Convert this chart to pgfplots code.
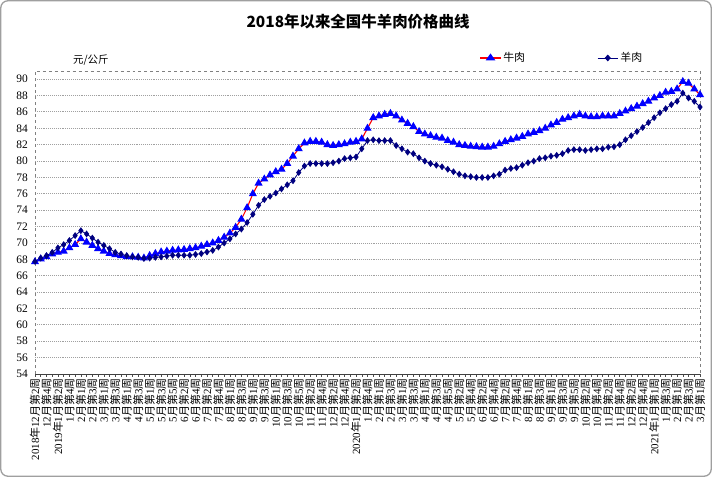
\documentclass[border=0pt]{standalone}
\usepackage{fontspec}
\setmainfont{Liberation Serif}
\newfontfamily\cjk{Noto Sans CJK SC}
\usepackage{pgfplots}
\pgfplotsset{compat=1.18}
\newcommand\wk[2]{#1{\cjk 月第}#2{\cjk 周}}
\newcommand\yr[3]{#1{\cjk 年}#2{\cjk 月第}#3{\cjk 周}}
\definecolor{navy}{RGB}{0,0,128}
\definecolor{gridgray}{RGB}{160,160,160}

\pgfplotstableread{
i beef mutton
0 67.7 67.75
1 68.05 68.15
2 68.3 68.45
3 68.65 68.85
4 68.85 69.4
5 69.0 69.8
6 69.4 70.3
7 69.8 70.9
8 70.5 71.5
9 70.1 71.1
10 69.7 70.6
11 69.3 70.1
12 69.0 69.7
13 68.7 69.3
14 68.55 68.85
15 68.45 68.65
16 68.3 68.45
17 68.3 68.3
18 68.25 68.25
19 68.15 68.1
20 68.45 68.15
21 68.7 68.25
22 68.9 68.3
23 69.0 68.4
24 69.1 68.5
25 69.15 68.5
26 69.2 68.5
27 69.3 68.5
28 69.4 68.6
29 69.6 68.7
30 69.8 68.9
31 70.0 69.1
32 70.3 69.5
33 70.7 70.0
34 71.2 70.5
35 71.9 71.1
36 72.9 71.7
37 74.3 72.5
38 76.0 73.5
39 77.3 74.6
40 77.8 75.3
41 78.3 75.7
42 78.7 76.1
43 79.0 76.6
44 79.7 77.1
45 80.6 77.6
46 81.5 78.6
47 82.2 79.4
48 82.4 79.7
49 82.4 79.7
50 82.3 79.7
51 82.0 79.7
52 81.9 79.8
53 82.0 80.0
54 82.1 80.3
55 82.3 80.4
56 82.4 80.5
57 82.7 81.5
58 84.0 82.5
59 85.3 82.6
60 85.5 82.5
61 85.7 82.5
62 85.8 82.5
63 85.5 81.9
64 85.0 81.5
65 84.6 81.1
66 84.2 80.9
67 83.6 80.4
68 83.3 80.0
69 83.1 79.7
70 82.9 79.5
71 82.8 79.3
72 82.5 79.0
73 82.3 78.7
74 82.0 78.4
75 81.9 78.2
76 81.8 78.1
77 81.75 78.0
78 81.7 78.0
79 81.7 78.0
80 81.8 78.2
81 82.1 78.4
82 82.4 78.9
83 82.6 79.1
84 82.8 79.2
85 83.0 79.5
86 83.3 79.8
87 83.5 80.0
88 83.7 80.3
89 84.0 80.4
90 84.4 80.6
91 84.7 80.7
92 85.1 80.9
93 85.3 81.3
94 85.5 81.4
95 85.7 81.4
96 85.5 81.3
97 85.4 81.4
98 85.4 81.5
99 85.5 81.5
100 85.5 81.7
101 85.5 81.75
102 85.8 82.0
103 86.1 82.6
104 86.4 83.1
105 86.7 83.6
106 87.0 84.1
107 87.3 84.7
108 87.7 85.3
109 88.0 85.9
110 88.4 86.4
111 88.5 86.9
112 88.8 87.3
113 89.7 88.3
114 89.5 87.7
115 88.8 87.3
116 88.1 86.6
}\datatable

\begin{document}
\begin{tikzpicture}
\useasboundingbox (0,0) rectangle (712bp,477bp);
\draw[gray!75, line width=1.3bp, rounded corners=7bp] (0.8bp,0.8bp) rectangle (711.2bp,476.2bp);
\node[font=\cjk\bfseries\fontsize{15.5}{17}\selectfont] at (358bp,455bp) {2018年以来全国牛羊肉价格曲线};
\begin{axis}[
  at={(35bp,103bp)}, anchor=south west,
  scale only axis, width=665bp, height=303bp,
  xmin=0, xmax=116, ymin=54, ymax=91,
  axis line style={draw=none},
  xtick={0,2,...,116},
  minor xtick={1,3,...,115},
  xtick pos=bottom,
  tick align=outside,
  major tick length=3bp, minor tick length=3bp,
  every tick/.style={black!70, line width=0.5bp},
  xticklabels={{\yr{2018}{12}{2}},{\wk{12}{4}},{\yr{2019}{1}{2}},{\wk{1}{4}},{\wk{2}{1}},{\wk{2}{3}},{\wk{3}{1}},{\wk{3}{3}},{\wk{4}{1}},{\wk{4}{3}},{\wk{5}{1}},{\wk{5}{3}},{\wk{5}{5}},{\wk{6}{2}},{\wk{6}{4}},{\wk{7}{2}},{\wk{7}{4}},{\wk{8}{1}},{\wk{8}{3}},{\wk{9}{1}},{\wk{9}{3}},{\wk{10}{1}},{\wk{10}{3}},{\wk{10}{5}},{\wk{11}{2}},{\wk{11}{4}},{\wk{12}{2}},{\wk{12}{4}},{\yr{2020}{1}{2}},{\wk{1}{4}},{\wk{2}{1}},{\wk{2}{3}},{\wk{3}{1}},{\wk{3}{3}},{\wk{4}{1}},{\wk{4}{3}},{\wk{4}{5}},{\wk{5}{2}},{\wk{5}{4}},{\wk{6}{2}},{\wk{6}{4}},{\wk{7}{2}},{\wk{7}{4}},{\wk{8}{1}},{\wk{8}{3}},{\wk{9}{1}},{\wk{9}{3}},{\wk{9}{5}},{\wk{10}{2}},{\wk{10}{4}},{\wk{11}{2}},{\wk{11}{4}},{\wk{12}{2}},{\wk{12}{4}},{\yr{2021}{1}{1}},{\wk{1}{3}},{\wk{2}{1}},{\wk{2}{3}},{\wk{3}{1}}},
  xticklabel style={rotate=90, anchor=east, inner sep=1bp, font=\fontsize{11}{11}\selectfont},
  ytick={54,56,...,90},
  ytick style={draw=none},
  yticklabel style={font=\fontsize{11.5}{12}\selectfont, inner sep=2bp, xshift=-2bp},
  /pgf/number format/assume math mode=true,
  ymajorgrids,
  grid style={gridgray, line width=0.9bp, densely dotted},
  legend style={at={(0.664,1.043)}, anchor=west, draw=none, fill=none,
    font=\cjk\fontsize{11}{12}\selectfont, legend columns=2,
    /tikz/every even column/.append style={column sep=70bp}},
  legend image post style={xscale=1.2},
  legend cell align=left,
  clip=false,
]
\addplot[red, line width=1.1bp, mark=triangle*, mark size=3.6bp,
  mark options={solid, blue, fill=blue}] table[x=i, y=beef] {\datatable};
\addlegendentry{牛肉}
\addplot[navy, line width=0.8bp, mark=diamond*, mark size=2.8bp,
  mark options={solid, navy, fill=navy}] table[x=i, y=mutton] {\datatable};
\addlegendentry{羊肉}
\draw[gray, dashed, line width=0.6bp] (rel axis cs:0,0) rectangle (rel axis cs:1,1);
\draw[black!75, line width=0.7bp] (rel axis cs:0,0) -- (rel axis cs:1,0);
\node[font=\cjk\fontsize{10.5}{12}\selectfont] at (rel axis cs:0.084,1.036) {元/公斤};
\end{axis}
\end{tikzpicture}
\end{document}
